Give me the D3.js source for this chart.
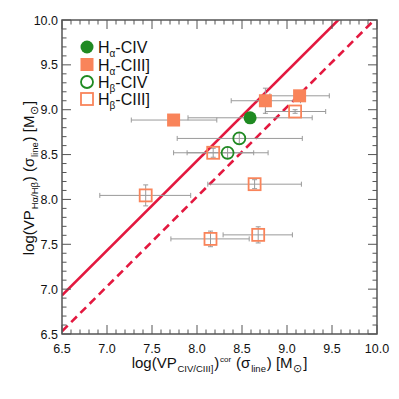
<!DOCTYPE html>
<html><head><meta charset="utf-8">
<script src="https://cdn.jsdelivr.net/npm/d3@7"></script>
<style>body{margin:0;background:#fff}svg{display:block;font-family:"Liberation Sans",Arial,sans-serif}</style>
</head><body><svg id="c" width="399" height="399"></svg>
<script>
// Data
const haCIV_x = [8.59], haCIV_y = [8.91], haCIV_xlo = [7.90], haCIV_xhi = [9.28], haCIV_ye = [0];
const haCIII_x = [7.74, 8.76, 9.14], haCIII_y = [8.885, 9.10, 9.155], haCIII_xlo = [7.27, 8.38, 8.81], haCIII_xhi = [8.22, 9.15, 9.47], haCIII_ye = [0, 0.14, 0];
const hbCIV_x = [8.47, 8.34], hbCIV_y = [8.68, 8.52], hbCIV_xlo = [7.78, 7.89], hbCIV_xhi = [9.17, 8.79], hbCIV_ye = [0.06, 0.06];
const hbCIII_x = [9.09, 8.18, 8.64, 7.43, 8.15, 8.68], hbCIII_y = [8.98, 8.52, 8.17, 8.045, 7.56, 7.605],
      hbCIII_xlo = [8.76, 7.74, 8.12, 6.92, 7.71, 8.29], hbCIII_xhi = [9.43, 8.63, 9.16, 7.93, 8.58, 9.06],
      hbCIII_ye = [0.02, 0.05, 0.05, 0.117, 0.087, 0.09];
const lineSolidOffset = 0.43, lineDashOffset = 0.03;
const xTicks = [6.5, 7.0, 7.5, 8.0, 8.5, 9.0, 9.5, 10.0];
const yTicks = [6.5, 7.0, 7.5, 8.0, 8.5, 9.0, 9.5, 10.0];
const legendLabels = [["α","-CIV"],["α","-CIII]"],["β","-CIV"],["β","-CIII]"]];

const green = "#1f8a22", orange = "#f9845a", red = "#e3183f", grey = "#9a9a9a", axisc = "#555";
const svg = d3.select("#c");
const L = 62, T = 20, R = 377, B = 334;
const x = d3.scaleLinear().domain([6.5, 10]).range([L, R]);
const y = d3.scaleLinear().domain([6.5, 10]).range([B, T]);

const g = svg.append("g");
svg.append("clipPath").attr("id","cp").append("rect").attr("x",L).attr("y",T).attr("width",R-L).attr("height",B-T);

// reference lines
const lg = g.append("g").attr("clip-path","url(#cp)");
const lineGen = d3.line().x(d=>x(d[0])).y(d=>y(d[1]));
lg.append("path").attr("d", lineGen([[6.5,6.5+lineSolidOffset],[10,10+lineSolidOffset]])).attr("stroke",red).attr("stroke-width",2.6).attr("fill","none");
lg.append("path").attr("d", lineGen([[6.5,6.5+lineDashOffset],[10,10+lineDashOffset]])).attr("stroke",red).attr("stroke-width",2.6).attr("fill","none").attr("stroke-dasharray","8,5");

// error bars
function errs(xs, ys, xlo, xhi, ye){
  const eg = g.append("g").attr("stroke",grey).attr("stroke-width",1).attr("fill","none");
  xs.forEach((xv,i)=>{
    const py = y(ys[i]);
    eg.append("line").attr("x1",x(xlo[i])).attr("x2",x(xhi[i])).attr("y1",py).attr("y2",py);
    [xlo[i],xhi[i]].forEach(v=>eg.append("line").attr("x1",x(v)).attr("x2",x(v)).attr("y1",py-2.5).attr("y2",py+2.5));
    if (ye[i]>0){
      const px = x(xv);
      eg.append("line").attr("x1",px).attr("x2",px).attr("y1",y(ys[i]-ye[i])).attr("y2",y(ys[i]+ye[i]));
      [ys[i]-ye[i], ys[i]+ye[i]].forEach(v=>eg.append("line").attr("x1",px-2.5).attr("x2",px+2.5).attr("y1",y(v)).attr("y2",y(v)));
    }
  });
}
errs(haCIII_x, haCIII_y, haCIII_xlo, haCIII_xhi, haCIII_ye);
errs(haCIV_x, haCIV_y, haCIV_xlo, haCIV_xhi, haCIV_ye);
errs(hbCIV_x, hbCIV_y, hbCIV_xlo, hbCIV_xhi, hbCIV_ye);
errs(hbCIII_x, hbCIII_y, hbCIII_xlo, hbCIII_xhi, hbCIII_ye);

// markers
function circles(xs, ys, filled){
  xs.forEach((xv,i)=>{
    g.append("circle").attr("cx",x(xv)).attr("cy",y(ys[i])).attr("r", filled?6.5:6)
      .attr("fill", filled?green:"none").attr("stroke",green).attr("stroke-width", filled?0:1.8);
  });
}
function squares(xs, ys, filled){
  xs.forEach((xv,i)=>{
    const s = filled?13:12;
    g.append("rect").attr("x",x(xv)-s/2).attr("y",y(ys[i])-s/2).attr("width",s).attr("height",s)
      .attr("fill", filled?orange:"none").attr("stroke",orange).attr("stroke-width", filled?0:1.8);
  });
}
squares(haCIII_x, haCIII_y, true);
circles(haCIV_x, haCIV_y, true);
circles(hbCIV_x, hbCIV_y, false);
squares(hbCIII_x, hbCIII_y, false);

// axes frame and ticks
const ag = svg.append("g");
const minor = d3.range(65, 101).map(v=>v/10);
function isMajor(v){ return Math.abs(v*2 - Math.round(v*2))<1e-6; }
minor.forEach(v=>{
  const len = isMajor(v)?9:4.5;
  const px = x(v), py = y(v);
  ag.append("line").attr("x1",px).attr("x2",px).attr("y1",B).attr("y2",B-len).attr("stroke",axisc);
  ag.append("line").attr("x1",px).attr("x2",px).attr("y1",T).attr("y2",T+len).attr("stroke",axisc);
  ag.append("line").attr("y1",py).attr("y2",py).attr("x1",L).attr("x2",L+len).attr("stroke",axisc);
  ag.append("line").attr("y1",py).attr("y2",py).attr("x1",R).attr("x2",R-len).attr("stroke",axisc);
});
ag.append("rect").attr("x",L).attr("y",T).attr("width",R-L).attr("height",B-T).attr("fill","none").attr("stroke",axisc).attr("stroke-width",1.5);

const fmt = d3.format(".1f");
xTicks.forEach(v=>{
  ag.append("text").attr("x",x(v)).attr("y",B+19).attr("text-anchor","middle").attr("font-size",12.5).attr("fill","#111").text(fmt(v));
});
yTicks.forEach(v=>{
  ag.append("text").attr("x",L-4).attr("y",y(v)+4.5).attr("text-anchor","end").attr("font-size",12.5).attr("fill","#111").text(fmt(v));
});

// axis titles
function richText(parent, parts, attrs){
  const t = parent.append("text").attr("font-size",15).attr("fill","#111");
  Object.entries(attrs).forEach(([k,v])=>t.attr(k,v));
  let shift = 0, prevScript = false;
  parts.forEach(p=>{
    const ts = t.append("tspan").text(p.t);
    const target = p.s==="sub"?4:(p.s==="sup"?-6:0);
    ts.attr("dy", target-shift); shift = target;
    if (p.s) ts.attr("font-size", p.fs||9.5);
    if (prevScript || p.s) ts.attr("dx", 0.8);
    prevScript = !!p.s;
  });
  return t;
}
richText(svg, [{t:"log(VP"},{t:"CIV/CIII]",s:"sub"},{t:")"},{t:"cor",s:"sup",fs:8},{t:" (σ"},{t:"line",s:"sub"},{t:") [M"},{t:"⊙",s:"sub",fs:11},{t:"]"}],
  {x:(L+R)/2, y:368, "text-anchor":"middle"});
richText(svg, [{t:"log(VP"},{t:"Hα/Hβ",s:"sub"},{t:") (σ"},{t:"line",s:"sub"},{t:") [M"},{t:"⊙",s:"sub",fs:11},{t:"]"}],
  {transform:"translate(34,178) rotate(-90)", "text-anchor":"middle"});

// legend
const legY = [47, 64.5, 82, 99];
const lgd = svg.append("g");
lgd.append("circle").attr("cx",87).attr("cy",legY[0]).attr("r",6.5).attr("fill",green);
lgd.append("rect").attr("x",87-6.5).attr("y",legY[1]-6.5).attr("width",13).attr("height",13).attr("fill",orange);
lgd.append("circle").attr("cx",87).attr("cy",legY[2]).attr("r",6).attr("fill","none").attr("stroke",green).attr("stroke-width",1.8);
lgd.append("rect").attr("x",87-6).attr("y",legY[3]-6).attr("width",12).attr("height",12).attr("fill","none").attr("stroke",orange).attr("stroke-width",1.8);
legendLabels.forEach((lab,i)=>{
  const t = lgd.append("text").attr("x",98).attr("y",legY[i]+6).attr("font-size",16).attr("fill","#111");
  t.append("tspan").text("H");
  t.append("tspan").attr("dy",4).attr("font-size",10).text(lab[0]);
  t.append("tspan").attr("dy",-4).text(lab[1]);
});
</script></body></html>
